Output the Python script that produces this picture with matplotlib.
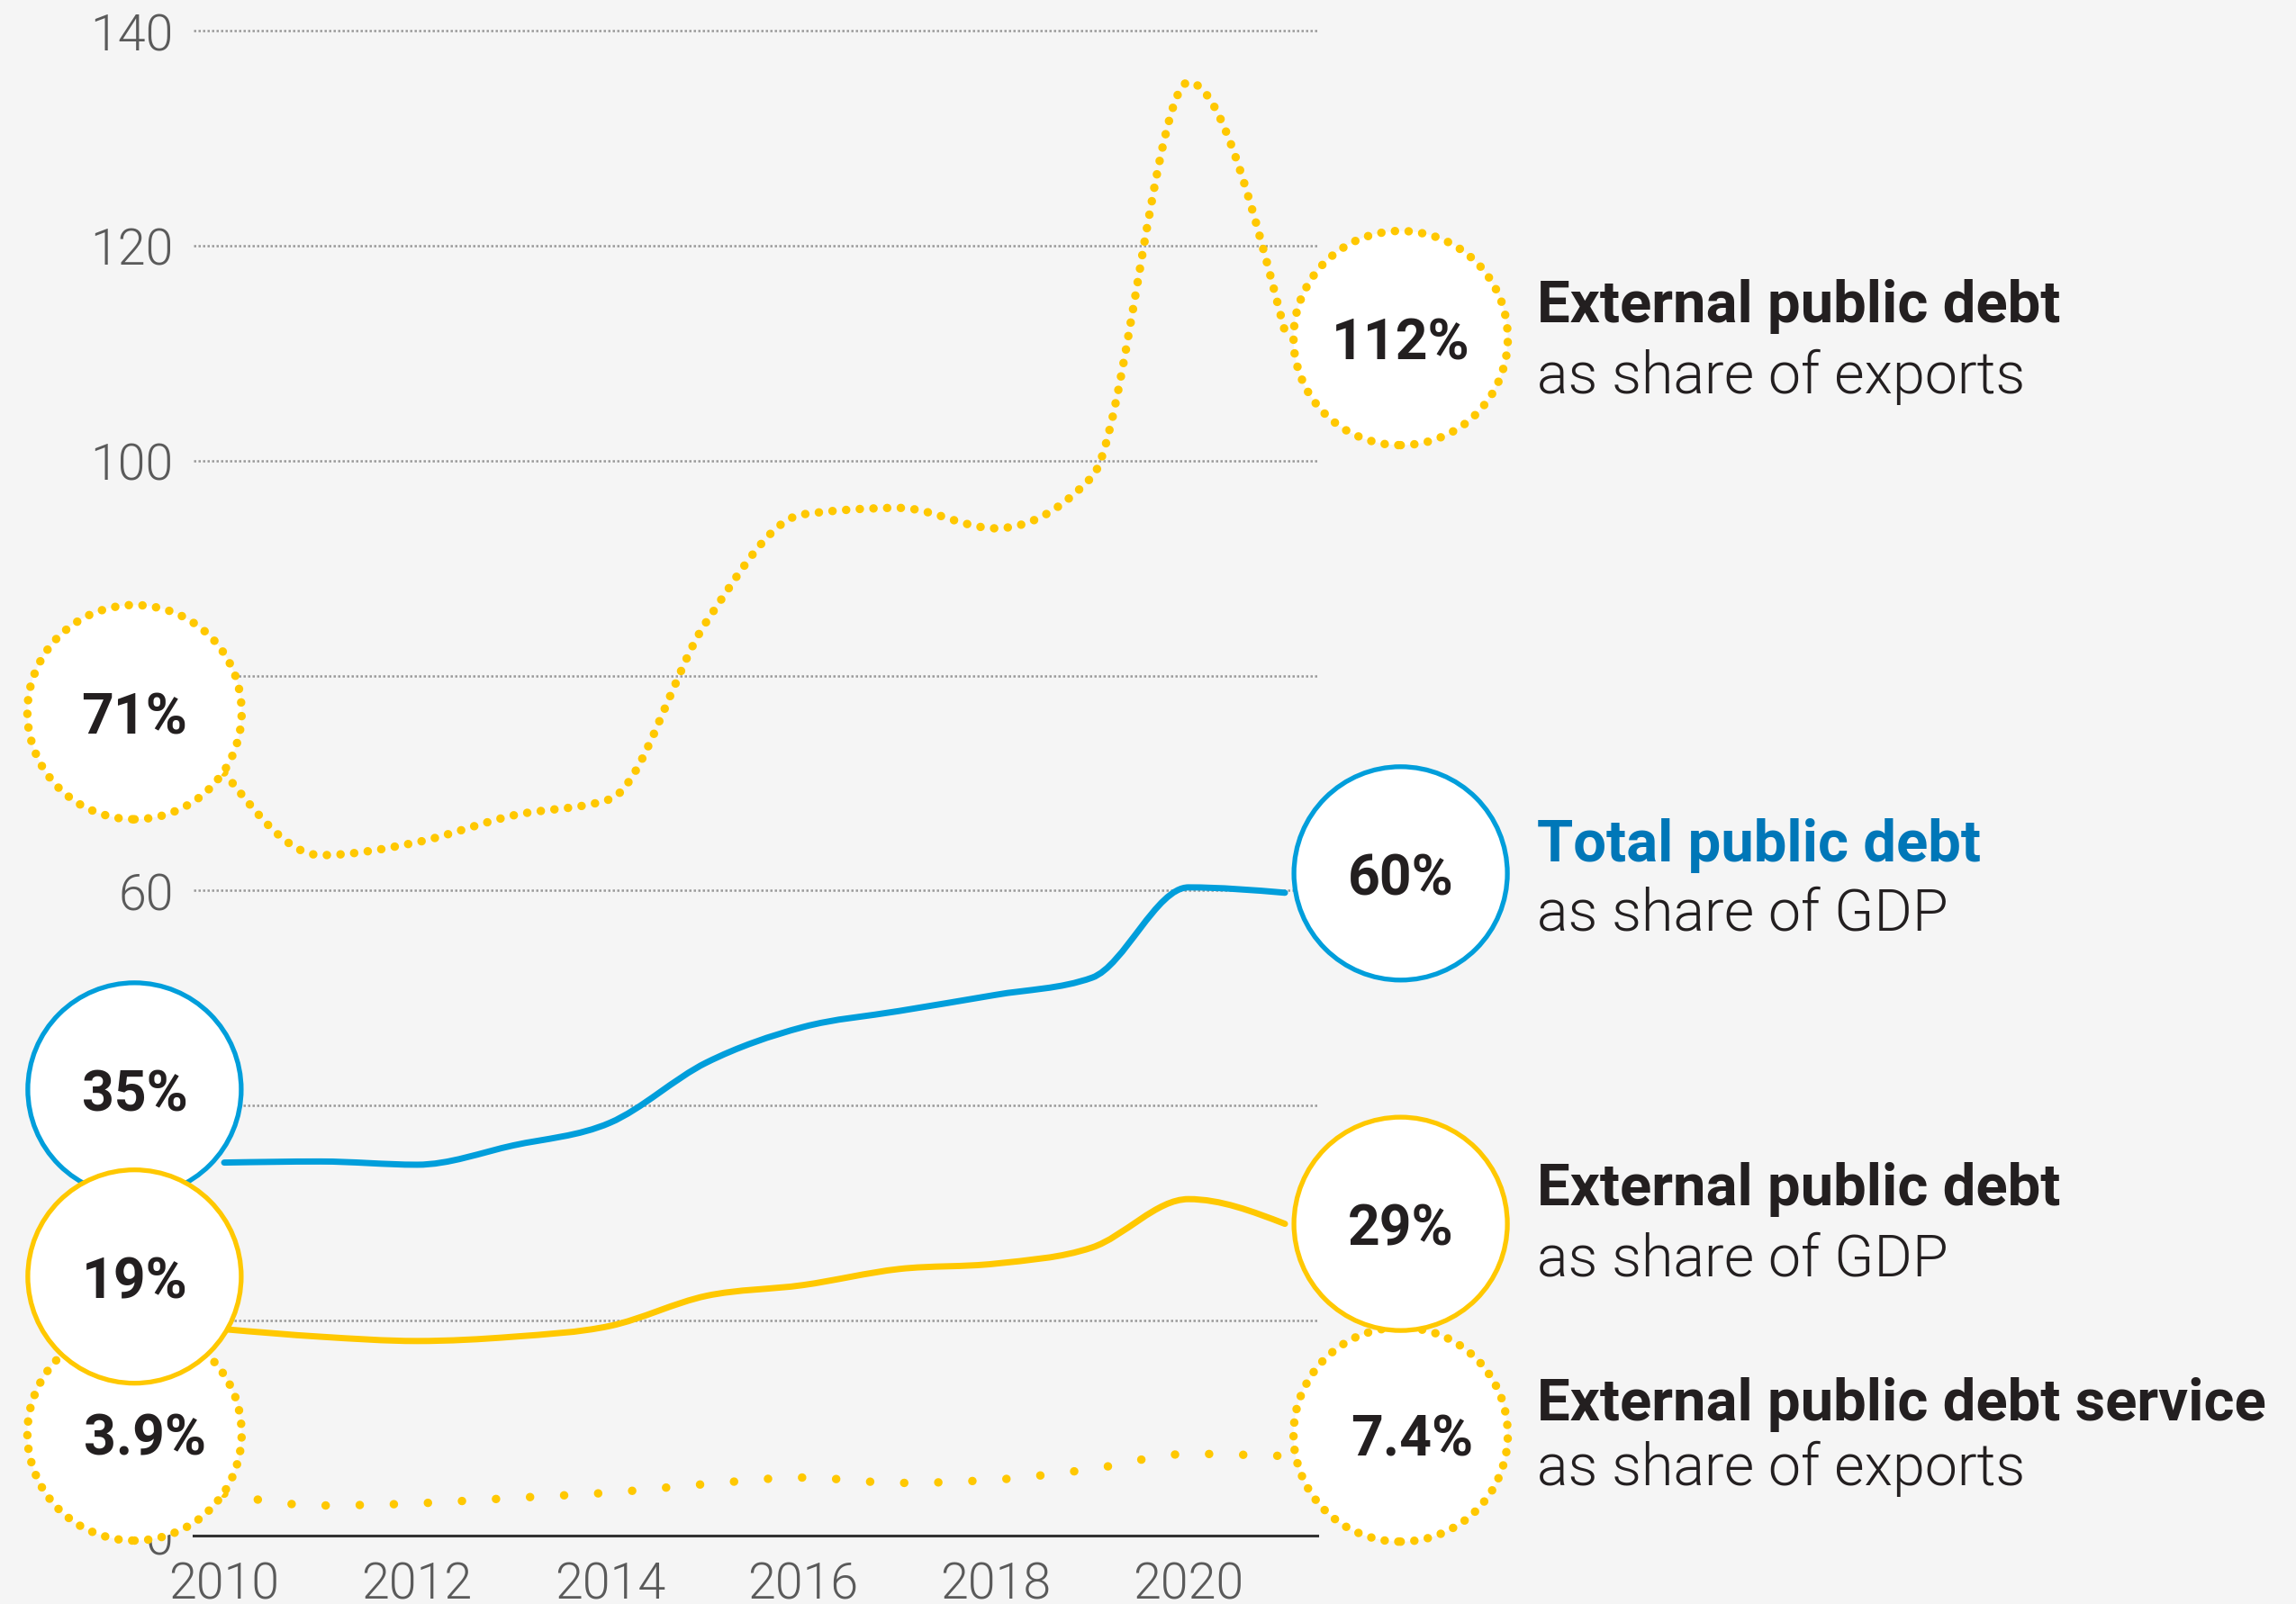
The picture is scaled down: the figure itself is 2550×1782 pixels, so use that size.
import numpy as np
import matplotlib
matplotlib.use("Agg")
import matplotlib.pyplot as plt
from matplotlib.path import Path
from matplotlib.patches import PathPatch, Circle
from matplotlib import transforms

# data (percent)
years = [2010, 2011, 2012, 2013, 2014, 2015, 2016, 2017, 2018, 2019, 2020, 2021]
total_debt_gdp = [34.7, 34.8, 34.5, 36.3, 38.4, 44.0, 47.3, 48.8, 50.3, 51.9, 60.3, 59.8]
ext_debt_gdp = [19.2, 18.5, 18.1, 18.5, 19.5, 22.3, 23.3, 24.8, 25.3, 26.8, 31.3, 29.0]
ext_debt_exports = [71.0, 63.3, 64.5, 67.0, 68.5, 85.0, 95.0, 95.6, 93.7, 98.5, 135.2, 112.0]
debt_service_exports = [3.9, 2.8, 3.0, 3.5, 4.0, 4.8, 5.4, 4.9, 5.2, 6.2, 7.6, 7.4]

start_labels = ["35%", "19%", "71%", "3.9%"]
end_labels = ["60%", "29%", "112%", "7.4%"]
y_ticks = [0, 20, 40, 60, 80, 100, 120, 140]
x_ticks = [2010, 2012, 2014, 2016, 2018, 2020]

BG = "#f5f5f5"
BLUE = "#009edb"
BLUE_TXT = "#0077b8"
YELLOW = "#ffc800"
DARK = "#231f20"
GREY = "#5a5a5a"

plt.rcParams["font.family"] = ["Roboto", "DejaVu Sans"]


def monotone_path(x, y):
    # monotone cubic (like d3 curveMonotoneX) as bezier segments
    x = np.asarray(x, float)
    y = np.asarray(y, float)
    n = len(x)
    h = np.diff(x)
    s = np.diff(y) / h
    t = np.zeros(n)
    for i in range(1, n - 1):
        if s[i - 1] * s[i] <= 0:
            t[i] = 0
        else:
            p = (s[i - 1] * h[i] + s[i] * h[i - 1]) / (h[i - 1] + h[i])
            t[i] = (np.sign(s[i - 1]) + np.sign(s[i])) * min(abs(s[i - 1]), abs(s[i]), 0.5 * abs(p))
    t[0] = (3 * s[0] - t[1]) / 2
    t[-1] = (3 * s[-1] - t[-2]) / 2
    verts = [(x[0], y[0])]
    codes = [Path.MOVETO]
    for i in range(n - 1):
        d = h[i] / 3
        verts += [(x[i] + d, y[i] + d * t[i]), (x[i + 1] - d, y[i + 1] - d * t[i + 1]), (x[i + 1], y[i + 1])]
        codes += [Path.CURVE4] * 3
    return Path(verts, codes)


fig = plt.figure(figsize=(25.5, 17.83), dpi=100)
fig.patch.set_facecolor(BG)
ax = fig.add_axes([0.08431, 0.04263, 0.48941, 0.93774])
ax.set_facecolor(BG)

for v in y_ticks[1:]:
    ax.axhline(v, color="#9a9a9a", lw=1.8, linestyle=(0, (1, 1)), zorder=1, clip_on=False)

for side in ["left", "right", "top"]:
    ax.spines[side].set_visible(False)
ax.spines["bottom"].set_color("#333333")
ax.spines["bottom"].set_linewidth(2.2)

ax.set_yticks(y_ticks)
ax.set_xticks(x_ticks)
ax.tick_params(axis="y", length=0, pad=16, labelsize=40, labelcolor=GREY)
ax.tick_params(axis="x", length=0, pad=20, labelsize=40, labelcolor=GREY)
for lab in ax.get_xticklabels() + ax.get_yticklabels():
    lab.set_fontweight(300)

# series lines
solid = dict(fill=False, lw=5.0, capstyle="round", joinstyle="round", zorder=3)
ax.add_patch(PathPatch(monotone_path(years, total_debt_gdp), edgecolor=BLUE, **solid))
ax.add_patch(PathPatch(monotone_path(years, ext_debt_gdp), edgecolor=YELLOW, **solid))
p = PathPatch(monotone_path(years, ext_debt_exports), edgecolor=YELLOW, fill=False, lw=6.8,
              linestyle=(0, (0.01, 1.6)), zorder=3)
p.set_capstyle("round")
ax.add_patch(p)
p = PathPatch(monotone_path(years, debt_service_exports), edgecolor=YELLOW, fill=False, lw=6.8,
              linestyle=(0, (0.01, 4.0)), zorder=3)
p.set_capstyle("round")
ax.add_patch(p)


def bubble(x, y, text, color, dotted, z, dx=0):
    trans = fig.dpi_scale_trans + transforms.ScaledTranslation(x, y, ax.transData)
    if dotted:
        c = Circle((0, 0), radius=1.19, transform=trans, facecolor="white", edgecolor=color,
                   lw=6.8, linestyle=(0, (0.01, 1.6)), clip_on=False, zorder=z)
        c.set_capstyle("round")
    else:
        c = Circle((0, 0), radius=1.185, transform=trans, facecolor="white", edgecolor=color,
                   lw=3.8, clip_on=False, zorder=z)
    ax.add_patch(c)
    ax.annotate(text, (x, y), xytext=(dx, -16.5), textcoords="offset points", ha="center",
                va="baseline", fontsize=45, fontweight="bold", color=DARK, zorder=z + 0.5,
                annotation_clip=False)


x_left, x_right = 2009.07, 2022.2
bubble(x_left, 9.5, start_labels[3], YELLOW, True, 5, dx=8)
bubble(x_left, 41.5, start_labels[0], BLUE, False, 6)
bubble(x_left, 24.1, start_labels[1], YELLOW, False, 7)
bubble(x_left, 76.6, start_labels[2], YELLOW, True, 6)
bubble(x_right, 9.4, end_labels[3], YELLOW, True, 5, dx=9)
bubble(x_right, 29.0, end_labels[1], YELLOW, False, 7)
bubble(x_right, 61.6, end_labels[0], BLUE, False, 6)
bubble(x_right, 111.4, end_labels[2], YELLOW, True, 6)

ax.set_xlim(2009.6825, 2021.3352)
ax.set_ylim(0, 140)

# series names on the right
tx = 1707 / 2550
legend = [
    ("External public debt", "as share of exports", DARK, 358, 437),
    ("Total public debt", "as share of GDP", BLUE_TXT, 957, 1034),
    ("External public debt", "as share of GDP", DARK, 1339, 1417),
    ("External public debt service", "as share of exports", DARK, 1578, 1650),
]
for head, sub, col, yb1, yb2 in legend:
    fig.text(tx, 1 - yb1 / 1783, head, fontsize=47, fontweight="bold", color=col, va="baseline")
    fig.text(tx, 1 - yb2 / 1783, sub, fontsize=46.5, fontweight=300, color=DARK, va="baseline")

fig.savefig("out.png", dpi=100, facecolor=BG)
